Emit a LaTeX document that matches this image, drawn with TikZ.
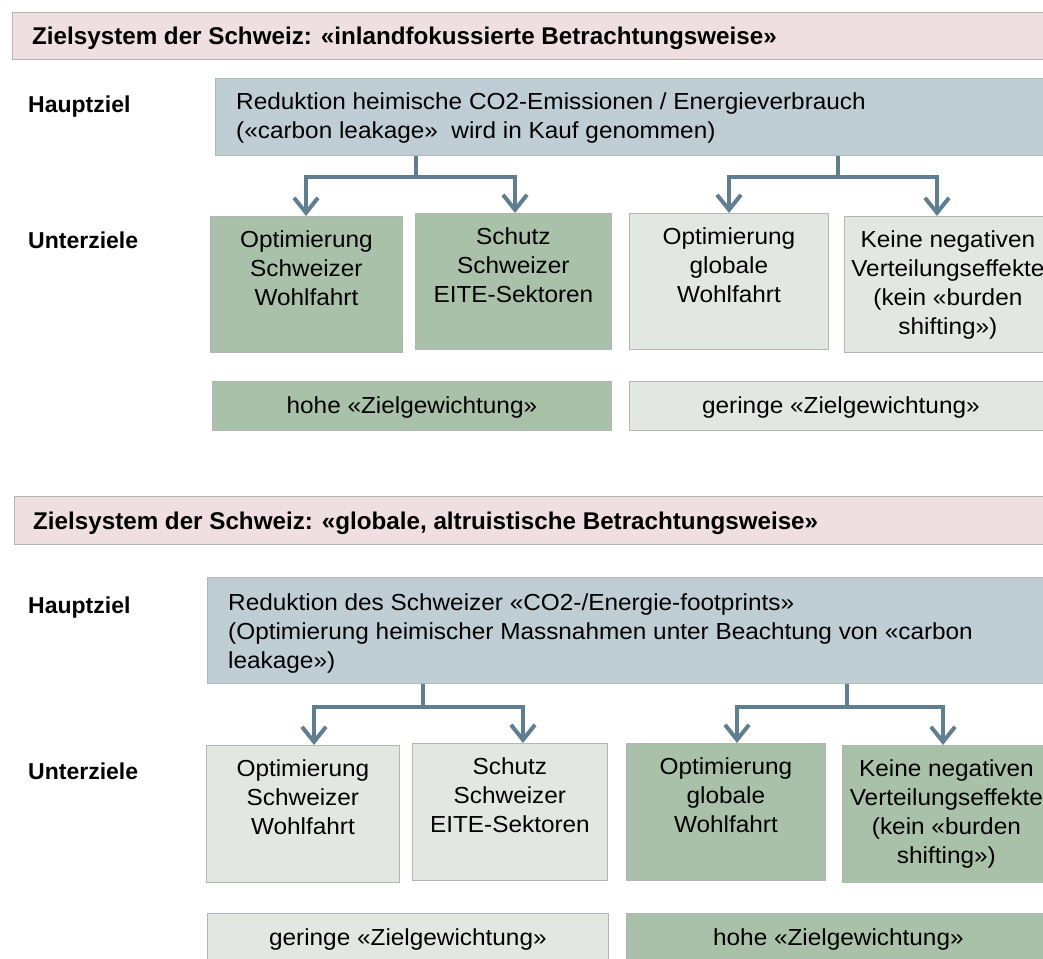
\documentclass[tikz,border=0pt]{standalone}
\usepackage{fontspec}
\setmainfont{Liberation Sans}
\newfontfamily\bodyfont[FakeStretch=1.05]{Liberation Sans}
\usetikzlibrary{arrows.meta}

\definecolor{titlepink}{RGB}{239,223,226}
\definecolor{goalblue}{RGB}{191,205,212}
\definecolor{highgreen}{RGB}{169,193,168}
\definecolor{lowgreen}{RGB}{226,232,225}
\definecolor{linkblue}{RGB}{95,127,145}
\definecolor{edgegray}{RGB}{178,182,178}

\begin{document}
\begin{tikzpicture}[x=1pt,y=-1pt,
  panel/.style={draw=edgegray, line width=0.8pt, anchor=north west, inner sep=0pt},
  titlebar/.style={panel, fill=titlepink},
  goalbox/.style={panel, fill=goalblue},
  high/.style={panel, fill=highgreen},
  low/.style={panel, fill=lowgreen},
  titletext/.style={font=\fontsize{24.2}{29}\selectfont\bfseries, anchor=base west, inner sep=0pt},
  rowlabel/.style={font=\fontsize{23}{29}\selectfont\bfseries, anchor=base west, inner sep=0pt},
  body/.style={font=\bodyfont\fontsize{23.2}{29.2}\selectfont, inner sep=0pt},
  boxtext/.style={body, align=center, anchor=north},
  goaltext/.style={body, align=left, anchor=north west},
  link/.style={draw=linkblue, line width=4pt},
  linkarrow/.style={link, -{Straight Barb[length=15pt,width=24pt]}},
]
\useasboundingbox (0,0) rectangle (1043,958);
\clip (0,0) rectangle (1043,958);

% ---------- upper system: domestic view ----------
\node[titlebar, minimum width=1040pt, minimum height=47pt] (T1) at (12,12) {};
\node[titletext] (T1t) at (32,45) {Zielsystem der Schweiz: «inlandfokussierte Betrachtungsweise»};

\node[rowlabel] (H1l) at (28,112) {Hauptziel};
\node[rowlabel] (U1l) at (28,248) {Unterziele};

\node[goalbox, minimum width=840pt, minimum height=77pt] (G1) at (215,78) {};
\node[goaltext] (G1t) at (236,88.7) {\strut Reduktion heimische CO2-Emissionen / Energieverbrauch\\(«carbon leakage»~ wird in Kauf genommen)};

\node[high, minimum width=192pt, minimum height=136pt] (A1) at (210,216) {};
\node[high, minimum width=196pt, minimum height=136pt] (B1) at (415,213) {};
\node[low,  minimum width=199pt, minimum height=136pt] (C1) at (629,213) {};
\node[low,  minimum width=207pt, minimum height=136pt] (D1) at (844,216) {};

\node[boxtext] at ([yshift=-10.7pt]A1.north) {\strut Optimierung\\Schweizer\\Wohlfahrt};
\node[boxtext] at ([yshift=-10.7pt]B1.north) {\strut Schutz\\Schweizer\\EITE-Sektoren};
\node[boxtext] at ([yshift=-10.7pt]C1.north) {\strut Optimierung\\globale\\Wohlfahrt};
\node[boxtext] at ([yshift=-10.7pt]D1.north) {\strut Keine negativen\\Verteilungseffekte\\(kein «burden\\shifting»)};

\node[high, minimum width=399pt, minimum height=49pt] (W1) at (212,381) {};
\node[low,  minimum width=423pt, minimum height=49pt] (W2) at (629,381) {};
\node[body, anchor=base] at ([yshift=-7.5pt]W1.center) {hohe «Zielgewichtung»};
\node[body, anchor=base] at ([yshift=-7.5pt]W2.center) {geringe «Zielgewichtung»};

% connectors of the upper system
\coordinate (J1) at (416,177);
\coordinate (J2) at (838,177);
\coordinate (xa1) at (306,0);
\coordinate (xb1) at (515,0);
\coordinate (xc1) at (729,0);
\coordinate (xd1) at (937,0);
\draw[link] (G1.south -| J1) -- (J1);
\draw[link] (G1.south -| J2) -- (J2);
\draw[linkarrow] (J1) -| (A1.north -| xa1);
\draw[linkarrow] (J1) -| (B1.north -| xb1);
\draw[linkarrow] (J2) -| (C1.north -| xc1);
\draw[linkarrow] (J2) -| (D1.north -| xd1);

% ---------- lower system: global, altruistic view ----------
\node[titlebar, minimum width=1040pt, minimum height=48pt] (T2) at (14,496) {};
\node[titletext] (T2t) at (33,529) {Zielsystem der Schweiz: «globale, altruistische Betrachtungsweise»};

\node[rowlabel] (H2l) at (28,613) {Hauptziel};
\node[rowlabel] (U2l) at (28,779) {Unterziele};

\node[goalbox, minimum width=850pt, minimum height=106pt] (G2) at (207,577) {};
\node[goaltext] (G2t) at (228,589.7) {\strut Reduktion des Schweizer «CO2-/Energie-footprints»\\(Optimierung heimischer Massnahmen unter Beachtung von «carbon\\leakage»)};

\node[low,  minimum width=193pt, minimum height=137pt] (A2) at (206,745) {};
\node[low,  minimum width=195pt, minimum height=137pt] (B2) at (412,743) {};
\node[high, minimum width=199pt, minimum height=137pt] (C2) at (626,743) {};
\node[high, minimum width=208pt, minimum height=137pt] (D2) at (842,745) {};

\node[boxtext] at ([yshift=-10.7pt]A2.north) {\strut Optimierung\\Schweizer\\Wohlfahrt};
\node[boxtext] at ([yshift=-10.7pt]B2.north) {\strut Schutz\\Schweizer\\EITE-Sektoren};
\node[boxtext] at ([yshift=-10.7pt]C2.north) {\strut Optimierung\\globale\\Wohlfahrt};
\node[boxtext] at ([yshift=-10.7pt]D2.north) {\strut Keine negativen\\Verteilungseffekte\\(kein «burden\\shifting»)};

\node[low,  minimum width=401pt, minimum height=50pt] (W3) at (207,913) {};
\node[high, minimum width=424pt, minimum height=50pt] (W4) at (626,913) {};
\node[body, anchor=base] at ([yshift=-7.5pt]W3.center) {geringe «Zielgewichtung»};
\node[body, anchor=base] at ([yshift=-7.5pt]W4.center) {hohe «Zielgewichtung»};

% connectors of the lower system
\coordinate (J3) at (423,707);
\coordinate (J4) at (847,707);
\coordinate (xa2) at (314,0);
\coordinate (xb2) at (523,0);
\coordinate (xc2) at (737,0);
\coordinate (xd2) at (943,0);
\draw[link] (G2.south -| J3) -- (J3);
\draw[link] (G2.south -| J4) -- (J4);
\draw[linkarrow] (J3) -| (A2.north -| xa2);
\draw[linkarrow] (J3) -| (B2.north -| xb2);
\draw[linkarrow] (J4) -| (C2.north -| xc2);
\draw[linkarrow] (J4) -| (D2.north -| xd2);
\end{tikzpicture}
\end{document}
